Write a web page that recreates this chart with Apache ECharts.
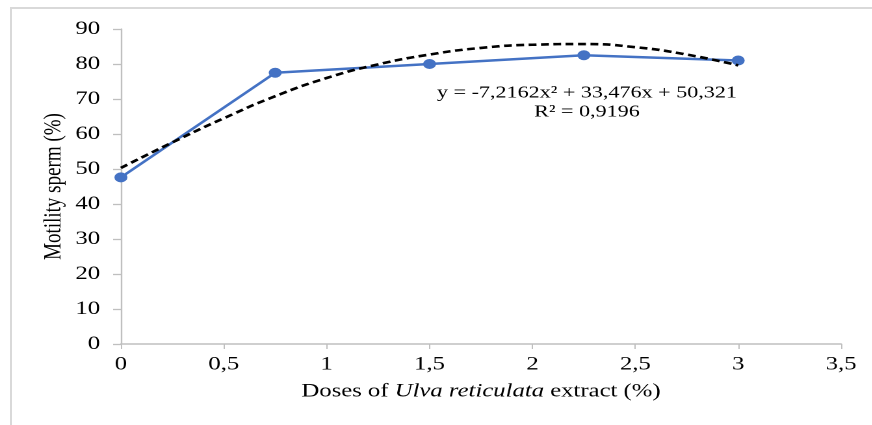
<!DOCTYPE html>
<html>
<head>
<meta charset="utf-8">
<script src="https://cdn.jsdelivr.net/npm/echarts@6/dist/echarts.min.js"></script>
<style>
html,body{margin:0;padding:0;background:#fff;overflow:hidden;}
#frame{position:absolute;left:10px;top:7px;width:900px;height:450px;border-left:2px solid #d9d9d9;border-top:2px solid #d9d9d9;}
#chart{position:absolute;left:0;top:0;width:671px;height:425px;transform:scaleX(1.3);transform-origin:0 0;}
</style>
</head>
<body>
<div id="frame"></div>
<div id="chart"></div>
<script>
const doses = [0, 0.75, 1.5, 2.25, 3];
const motility = [47.6, 77.5, 80.0, 82.5, 81.0];
const trendX = [0, 0.25, 0.5, 0.75, 1, 1.25, 1.5, 1.75, 2, 2.25, 2.5, 2.75, 3];
const trendY = [50.3, 57.6, 64.5, 70.8, 76.0, 79.9, 82.7, 84.6, 85.5, 85.7, 84.8, 82.7, 79.6];
const xTicks = ['0', '0,5', '1', '1,5', '2', '2,5', '3', '3,5'];
const equationText = 'y = -7,2162x² + 33,476x + 50,321';
const r2Text = 'R² = 0,9196';

const font = 'Liberation Serif';
const chart = echarts.init(document.getElementById('chart'), null, {devicePixelRatio: 2});
chart.setOption({
  animation: false,
  grid: {left: 93, right: 24, top: 29, bottom: 81},
  xAxis: {
    type: 'value', min: 0, max: 3.5, interval: 0.5,
    name: 'Doses of {i|Ulva reticulata} extract (%)',
    nameLocation: 'middle', nameGap: 38,
    nameTextStyle: {fontFamily: font, fontSize: 19, color: '#000',
      rich: {i: {fontFamily: font, fontSize: 19, fontStyle: 'italic', color: '#000'}}},
    axisLine: {lineStyle: {color: '#bfbfbf', width: 1.5}},
    axisTick: {show: true, length: 5, lineStyle: {color: '#bfbfbf', width: 1}},
    splitLine: {show: false},
    axisLabel: {fontFamily: font, fontSize: 19, color: '#000', margin: 11,
      formatter: v => xTicks[Math.round(v / 0.5)]}
  },
  yAxis: {
    type: 'value', min: 0, max: 90, interval: 10,
    name: 'Motility sperm (%)',
    nameLocation: 'middle', nameGap: 42, nameRotate: 90, nameMoveOverlap: false,
    nameTextStyle: {fontFamily: font, fontSize: 19, color: '#000'},
    axisLine: {show: true, lineStyle: {color: '#bfbfbf', width: 1.2}},
    axisTick: {show: true, length: 6, lineStyle: {color: '#bfbfbf', width: 1.3}},
    splitLine: {show: false},
    axisLabel: {fontFamily: font, fontSize: 19, color: '#000', margin: 16}
  },
  series: [
    {
      type: 'line', smooth: true, symbol: 'none',
      data: trendX.map((x, i) => [x, trendY[i]]),
      lineStyle: {color: '#000', width: 2.6, type: [6, 3.5]},
      z: 3
    },
    {
      type: 'line', symbol: 'circle', symbolSize: 10,
      data: doses.map((x, i) => [x, motility[i]]),
      lineStyle: {color: '#4472c4', width: 2.4},
      itemStyle: {color: '#4472c4'},
      z: 2
    }
  ],
  graphic: [
    {type: 'text', x: 451.5, y: 93, style: {text: equationText, fontFamily: font, fontSize: 17, fill: '#000', textAlign: 'center', textVerticalAlign: 'middle'}},
    {type: 'text', x: 451.5, y: 112, style: {text: r2Text, fontFamily: font, fontSize: 17, fill: '#000', textAlign: 'center', textVerticalAlign: 'middle'}}
  ]
});
</script>
</body>
</html>
